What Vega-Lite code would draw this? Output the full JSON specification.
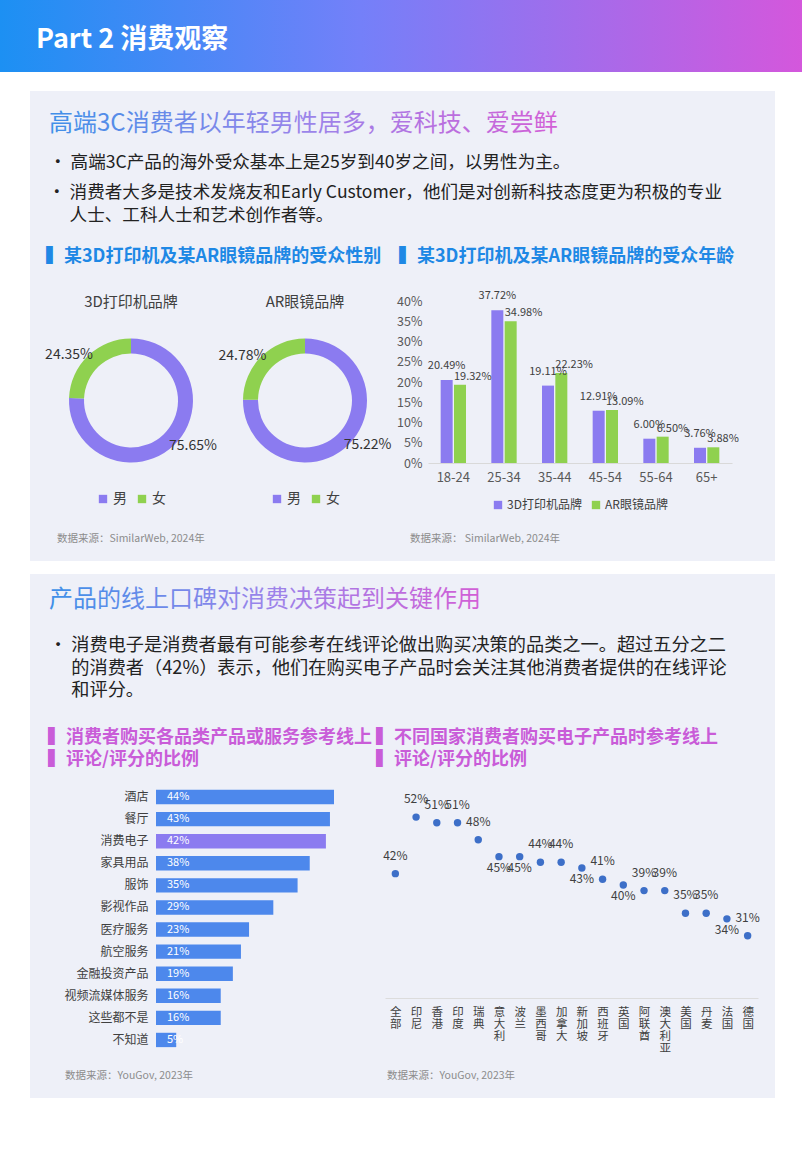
{
  "$schema": "https://vega.github.io/schema/vega-lite/v6.json",
  "padding": 0,
  "background": "#eef0f8",
  "spacing": 0,
  "resolve": {"scale": {"color": "independent", "theta": "independent"}, "legend": {"color": "independent"}},
  "config": {
    "font": "Noto Sans CJK SC",
    "view": {"stroke": null},
    "concat": {"spacing": 0},
    "title": {"font": "Noto Sans CJK SC", "subtitleFont": "Noto Sans CJK SC", "fontWeight": "normal", "anchor": "start", "frame": "group", "color": "#222222", "subtitleColor": "#222222"},
    "axis": {"labelFont": "Noto Sans CJK SC", "titleFont": "Noto Sans CJK SC"},
    "legend": {"labelFont": "Noto Sans CJK SC", "layout": {"bottom": {"anchor": "middle"}}},
    "text": {"font": "Noto Sans CJK SC"}
  },
  "vconcat": [
    {
      "width": 802,
      "height": 72,
      "data": {"values": [{}]},
      "mark": {"type": "rect", "color": {"gradient": "linear", "x1": 0, "x2": 1, "y1": 0, "y2": 0, "stops": [{"offset": 0, "color": "#1c90f3"}, {"offset": 0.45, "color": "#7480f9"}, {"offset": 1, "color": "#d457dc"}]}},
      "title": {"text": "Part 2 消费观察", "fontSize": 27, "fontWeight": "bold", "color": "#ffffff", "dx": 36, "offset": -54}
    },
    {
      "spacing": 0,
      "resolve": {"scale": {"color": "independent", "theta": "independent"}, "legend": {"color": "independent"}},
      "hconcat": [
        {"width": 30, "height": 1100, "data": {"values": []}, "mark": "point", "view": {"fill": "#ffffff"}},
        {
          "spacing": 0,
          "resolve": {"scale": {"color": "independent", "theta": "independent"}, "legend": {"color": "independent"}},
          "vconcat": [
            {"width": 745, "height": 19, "data": {"values": []}, "mark": "point", "view": {"fill": "#ffffff"}},
            {"width": 745, "height": 21, "data": {"values": []}, "mark": "point"},
            {
              "width": 745, "height": 1, "data": {"values": []}, "mark": "point",
              "title": {
                "text": "高端3C消费者以年轻男性居多，爱科技、爱尝鲜",
                "fontSize": 24,
                "color": {"value": {"gradient": "linear", "x1": 0, "x2": 1, "y1": 0, "y2": 0, "stops": [{"offset": 0, "color": "#3f8fe8"}, {"offset": 0.5, "color": "#9a84ea"}, {"offset": 1, "color": "#d25fd6"}]}},
                "subtitle": "•  高端3C产品的海外受众基本上是25岁到40岁之间，以男性为主。",
                "subtitleFontSize": 17.6,
                "subtitleColor": "#222222",
                "subtitlePadding": 17.5,
                "dx": 19,
                "offset": 11.5
              }
            },
            {
              "width": 745, "height": 1, "data": {"values": []}, "mark": "point",
              "title": {
                "text": ["•  消费者大多是技术发烧友和Early Customer，他们是对创新科技态度更为积极的专业", "\u200b\u3000 人士、工科人士和艺术创作者等。"],
                "fontSize": 17.6,
                "lineHeight": 23,
                "color": "#222222",
                "dx": 18,
                "offset": 22
              }
            },
            {
              "spacing": 0,
              "bounds": "flush",
              "hconcat": [
                {"width": 370, "height": 1, "data": {"values": []}, "mark": "point", "title": {"text": "▍某3D打印机及某AR眼镜品牌的受众性别", "fontSize": 18, "fontWeight": "bold", "color": "#1e88e5", "dx": 16, "offset": 23}},
                {"width": 375, "height": 1, "data": {"values": []}, "mark": "point", "title": {"text": "▍某3D打印机及某AR眼镜品牌的受众年龄", "fontSize": 18, "fontWeight": "bold", "color": "#1e88e5", "dx": -1, "offset": 23}}
              ]
            },
            {
              "spacing": 0,
              "bounds": "flush",
              "resolve": {"scale": {"color": "independent", "theta": "independent"}, "legend": {"color": "independent"}},
              "hconcat": [
                {
                  "width": 202, "height": 199,
                  "title": {"text": "3D打印机品牌", "fontSize": 15, "color": "#404040", "anchor": "middle", "offset": -8.5},
                  "data": {"values": [{"g": "男", "v": 0.7565}, {"g": "女", "v": 0.2435}]},
                  "encoding": {
                    "theta": {"field": "v", "type": "quantitative", "stack": true},
                    "order": {"field": "v", "sort": "descending"},
                    "color": {"field": "g", "type": "nominal", "scale": {"domain": ["男", "女"], "range": ["#8b7bf0", "#8fd14f"]}, "legend": {"orient": "bottom", "title": null, "direction": "horizontal", "symbolType": "square", "symbolSize": 70, "labelFontSize": 14, "labelColor": "#404040", "offset": -8, "columnPadding": 8, "labelOffset": 3}}
                  },
                  "layer": [
                    {"mark": {"type": "arc", "radius": 62, "innerRadius": 47}},
                    {"mark": {"type": "text", "radius": 77, "thetaOffset": -0.17, "fontSize": 14}, "encoding": {"text": {"field": "v", "type": "quantitative", "format": ".2%"}, "color": {"value": "#333333"}}}
                  ]
                },
                {
                  "width": 146, "height": 199,
                  "title": {"text": "AR眼镜品牌", "fontSize": 15, "color": "#404040", "anchor": "middle", "offset": -8.5},
                  "data": {"values": [{"g": "男", "v": 0.7522}, {"g": "女", "v": 0.2478}]},
                  "encoding": {
                    "theta": {"field": "v", "type": "quantitative", "stack": true},
                    "order": {"field": "v", "sort": "descending"},
                    "color": {"field": "g", "type": "nominal", "scale": {"domain": ["男", "女"], "range": ["#8b7bf0", "#8fd14f"]}, "legend": {"orient": "bottom", "title": null, "direction": "horizontal", "symbolType": "square", "symbolSize": 70, "labelFontSize": 14, "labelColor": "#404040", "offset": -8, "columnPadding": 8, "labelOffset": 3}}
                  },
                  "layer": [
                    {"mark": {"type": "arc", "radius": 62, "innerRadius": 47}},
                    {"mark": {"type": "text", "radius": 77, "thetaOffset": -0.17, "fontSize": 14}, "encoding": {"text": {"field": "v", "type": "quantitative", "format": ".2%"}, "color": {"value": "#333333"}}}
                  ]
                },
                {"width": 50, "height": 1, "data": {"values": []}, "mark": "point"},
                {
                  "width": 304, "height": 162,
                  "data": {"values": [
                    {"age": "18-24", "brand": "3D打印机品牌", "v": 0.2049},
                    {"age": "18-24", "brand": "AR眼镜品牌", "v": 0.1932},
                    {"age": "25-34", "brand": "3D打印机品牌", "v": 0.3772},
                    {"age": "25-34", "brand": "AR眼镜品牌", "v": 0.3498},
                    {"age": "35-44", "brand": "3D打印机品牌", "v": 0.1911},
                    {"age": "35-44", "brand": "AR眼镜品牌", "v": 0.2223},
                    {"age": "45-54", "brand": "3D打印机品牌", "v": 0.1291},
                    {"age": "45-54", "brand": "AR眼镜品牌", "v": 0.1309},
                    {"age": "55-64", "brand": "3D打印机品牌", "v": 0.0600},
                    {"age": "55-64", "brand": "AR眼镜品牌", "v": 0.0650},
                    {"age": "65+", "brand": "3D打印机品牌", "v": 0.0376},
                    {"age": "65+", "brand": "AR眼镜品牌", "v": 0.0388}
                  ]},
                  "encoding": {
                    "x": {"field": "age", "type": "nominal", "sort": null, "scale": {"paddingInner": 0.5, "paddingOuter": 0.25}, "axis": {"title": null, "labelAngle": 0, "ticks": false, "domainColor": "#d9d9d9", "labelFontSize": 13, "labelColor": "#595959", "labelPadding": 8}},
                    "xOffset": {"field": "brand", "type": "nominal", "sort": null, "scale": {"paddingInner": 0.1}},
                    "y": {"field": "v", "type": "quantitative", "scale": {"domain": [0, 0.4]}, "axis": {"title": null, "values": [0, 0.05, 0.1, 0.15, 0.2, 0.25, 0.3, 0.35, 0.4], "format": ".0%", "ticks": false, "domain": false, "grid": false, "labelFontSize": 12.5, "labelColor": "#595959", "labelPadding": 6}}
                  },
                  "layer": [
                    {"mark": "bar", "encoding": {"color": {"field": "brand", "type": "nominal", "sort": null, "scale": {"domain": ["3D打印机品牌", "AR眼镜品牌"], "range": ["#8b7bf0", "#8fd14f"]}, "legend": {"orient": "bottom", "title": null, "direction": "horizontal", "symbolType": "square", "symbolSize": 70, "labelFontSize": 12, "labelColor": "#404040", "offset": 15, "columnPadding": 8, "labelOffset": 3}}}},
                    {"transform": [{"filter": "datum.brand === '3D打印机品牌'"}], "mark": {"type": "text", "baseline": "bottom", "dy": -9, "fontSize": 11, "color": "#404040"}, "encoding": {"text": {"field": "v", "type": "quantitative", "format": ".2%"}}},
                    {"transform": [{"filter": "datum.brand === 'AR眼镜品牌'"}], "mark": {"type": "text", "baseline": "bottom", "align": "left", "dx": -6, "dy": -3, "fontSize": 11, "color": "#404040"}, "encoding": {"text": {"field": "v", "type": "quantitative", "format": ".2%"}}}
                  ]
                }
              ]
            },
            {
              "spacing": 0,
              "bounds": "flush",
              "hconcat": [
                {"width": 380, "height": 1, "data": {"values": []}, "mark": "point", "title": {"text": "数据来源：SimilarWeb, 2024年", "orient": "bottom", "fontSize": 10.5, "color": "#8c8c8c", "dx": 27, "offset": 22}},
                {"width": 365, "height": 1, "data": {"values": []}, "mark": "point", "title": {"text": "数据来源： SimilarWeb, 2024年", "orient": "bottom", "fontSize": 10.5, "color": "#8c8c8c", "dx": 0, "offset": 22}}
              ]
            },
            {"width": 745, "height": 16, "data": {"values": []}, "mark": "point"},
            {"width": 745, "height": 13, "data": {"values": []}, "mark": "point", "view": {"fill": "#ffffff"}},
            {"width": 745, "height": 14, "data": {"values": []}, "mark": "point"},
            {
              "width": 745, "height": 1, "data": {"values": []}, "mark": "point",
              "title": {
                "text": "产品的线上口碑对消费决策起到关键作用",
                "fontSize": 24,
                "color": {"value": {"gradient": "linear", "x1": 0, "x2": 1, "y1": 0, "y2": 0, "stops": [{"offset": 0, "color": "#3f8fe8"}, {"offset": 0.5, "color": "#9a84ea"}, {"offset": 1, "color": "#d25fd6"}]}},
                "subtitle": ["•  消费电子是消费者最有可能参考在线评论做出购买决策的品类之一。超过五分之二", "\u200b\u3000 的消费者（42%）表示，他们在购买电子产品时会关注其他消费者提供的在线评论", "\u200b\u3000 和评分。"],
                "subtitleFontSize": 18.2,
                "subtitleLineHeight": 22.5,
                "subtitleColor": "#222222",
                "subtitlePadding": 25,
                "dx": 19,
                "offset": 28.5
              }
            },
            {
              "spacing": 51,
              "bounds": "flush",
              "hconcat": [
                {"width": 75, "height": 1, "data": {"values": []}, "mark": "point"},
                {
                  "width": 178, "height": 265,
                  "title": {"text": ["▍消费者购买各品类产品或服务参考线上", "▍评论/评分的比例"], "fontSize": 18, "fontWeight": "bold", "color": "#c95cd8", "lineHeight": 22, "dx": -108, "offset": 17},
                  "data": {"values": [
                    {"cat": "酒店", "v": 0.44},
                    {"cat": "餐厅", "v": 0.43},
                    {"cat": "消费电子", "v": 0.42},
                    {"cat": "家具用品", "v": 0.38},
                    {"cat": "服饰", "v": 0.35},
                    {"cat": "影视作品", "v": 0.29},
                    {"cat": "医疗服务", "v": 0.23},
                    {"cat": "航空服务", "v": 0.21},
                    {"cat": "金融投资产品", "v": 0.19},
                    {"cat": "视频流媒体服务", "v": 0.16},
                    {"cat": "这些都不是", "v": 0.16},
                    {"cat": "不知道", "v": 0.05}
                  ]},
                  "encoding": {
                    "y": {"field": "cat", "type": "nominal", "sort": null, "scale": {"paddingInner": 0.35, "paddingOuter": 0.175}, "axis": {"title": null, "ticks": false, "domain": false, "labelFontSize": 12, "labelColor": "#404040", "labelPadding": 8}},
                    "x": {"field": "v", "type": "quantitative", "scale": {"domain": [0, 0.44], "nice": false}, "axis": null}
                  },
                  "layer": [
                    {"mark": "bar", "encoding": {"color": {"condition": {"test": "datum.cat === '消费电子'", "value": "#8b7bf0"}, "value": "#4d88ec"}}},
                    {"mark": {"type": "text", "align": "left", "baseline": "middle", "dx": 11, "fontSize": 11, "color": "#ffffff"}, "encoding": {"x": {"datum": 0}, "text": {"field": "v", "type": "quantitative", "format": ".0%"}}}
                  ]
                },
                {
                  "width": 373, "height": 212,
                  "title": {"text": ["▍不同国家消费者购买电子产品时参考线上", "▍评论/评分的比例"], "fontSize": 18, "fontWeight": "bold", "color": "#c95cd8", "lineHeight": 22, "dx": -9, "offset": 17},
                  "data": {"values": [
                    {"c": "全部", "v": 0.42},
                    {"c": "印尼", "v": 0.52},
                    {"c": "香港", "v": 0.51},
                    {"c": "印度", "v": 0.51},
                    {"c": "瑞典", "v": 0.48},
                    {"c": "意大利", "v": 0.45},
                    {"c": "波兰", "v": 0.45},
                    {"c": "墨西哥", "v": 0.44},
                    {"c": "加拿大", "v": 0.44},
                    {"c": "新加坡", "v": 0.43},
                    {"c": "西班牙", "v": 0.41},
                    {"c": "英国", "v": 0.40},
                    {"c": "阿联酋", "v": 0.39},
                    {"c": "澳大利亚", "v": 0.39},
                    {"c": "美国", "v": 0.35},
                    {"c": "丹麦", "v": 0.35},
                    {"c": "法国", "v": 0.34},
                    {"c": "德国", "v": 0.31}
                  ]},
                  "encoding": {
                    "x": {"field": "c", "type": "nominal", "sort": null, "scale": {"paddingInner": 0, "paddingOuter": 0}, "axis": {"title": null, "labelAngle": 0, "labelExpr": "split(datum.label, '')", "labelFontSize": 11.5, "labelLineHeight": 12, "labelColor": "#404040", "labelBaseline": "top", "ticks": false, "domainColor": "#dcdcdc", "labelPadding": 8}},
                    "y": {"field": "v", "type": "quantitative", "scale": {"domain": [0.2, 0.575], "nice": false, "zero": false}, "axis": null}
                  },
                  "layer": [
                    {"mark": {"type": "circle", "size": 55, "opacity": 1, "color": "#3d6fc8"}},
                    {"transform": [{"filter": {"not": {"field": "c", "oneOf": ["意大利", "波兰", "新加坡", "英国", "法国"]}}}], "mark": {"type": "text", "baseline": "bottom", "dy": -11, "fontSize": 12, "color": "#404040"}, "encoding": {"text": {"field": "v", "type": "quantitative", "format": ".0%"}}},
                    {"transform": [{"filter": {"field": "c", "oneOf": ["意大利", "波兰", "新加坡", "英国", "法国"]}}], "mark": {"type": "text", "baseline": "top", "dy": 6, "fontSize": 12, "color": "#404040"}, "encoding": {"text": {"field": "v", "type": "quantitative", "format": ".0%"}}}
                  ]
                }
              ]
            },
            {
              "spacing": 0,
              "bounds": "flush",
              "hconcat": [
                {"width": 355, "height": 1, "data": {"values": []}, "mark": "point", "title": {"text": "数据来源：YouGov, 2023年", "orient": "bottom", "fontSize": 10.5, "color": "#8c8c8c", "dx": 35, "offset": 16}},
                {"width": 390, "height": 1, "data": {"values": []}, "mark": "point", "title": {"text": "数据来源：YouGov, 2023年", "orient": "bottom", "fontSize": 10.5, "color": "#8c8c8c", "dx": 2, "offset": 16}}
              ]
            },
            {"width": 745, "height": 16, "data": {"values": []}, "mark": "point"},
            {"width": 745, "height": 80, "data": {"values": []}, "mark": "point", "view": {"fill": "#ffffff"}}
          ]
        },
        {"width": 27, "height": 1100, "data": {"values": []}, "mark": "point", "view": {"fill": "#ffffff"}}
      ]
    }
  ]
}
